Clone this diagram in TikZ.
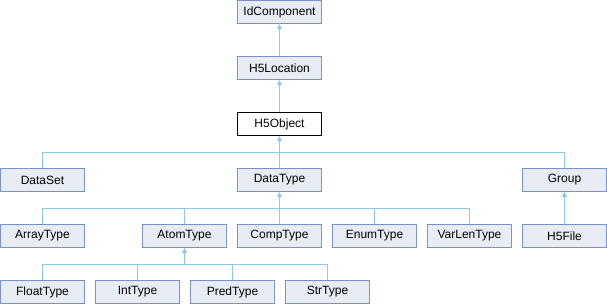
\documentclass[tikz,border=0pt]{standalone}
\usepackage{fontspec}
\setmainfont{Liberation Sans}
\usetikzlibrary{arrows.meta}
\definecolor{boxfill}{RGB}{232,236,245}
\definecolor{boxdraw}{RGB}{122,146,200}
\definecolor{edgecol}{RGB}{140,198,232}
\begin{document}
\begin{tikzpicture}[x=1pt, y=-1pt, font=\fontsize{12}{14}\selectfont]
\tikzstyle{cls}=[draw=boxdraw, fill=boxfill, line width=1pt, minimum width=84pt, minimum height=23pt, inner sep=0pt]
\tikzstyle{cur}=[cls, draw=black, fill=white]
\tikzstyle{edge}=[draw=edgecol, line width=1pt]
\tikzstyle{inh}=[edge, -{Triangle[width=5pt,length=5pt]}]
\useasboundingbox (0,0) rectangle (607,304);
% top of the hierarchy
\node[cls] (idcomp) at (279.5,12) {IdComponent};
\node[cls] (h5loc) at (279.5,68) {H5Location};
\node[cur] (h5obj) at (279.5,124) {H5Object};
% direct subclasses of H5Object
\node[cls] (dataset) at (42.5,180) {DataSet};
\node[cls] (datatype) at (279.5,180) {DataType};
\node[cls] (group) at (564.5,180) {Group};
% datatypes
\node[cls] (arraytype) at (42.5,236) {ArrayType};
\node[cls] (atomtype) at (184.5,236) {AtomType};
\node[cls] (comptype) at (279.5,236) {CompType};
\node[cls] (enumtype) at (374.5,236) {EnumType};
\node[cls] (varlentype) at (469.5,236) {VarLenType};
\node[cls] (h5file) at (564.5,236) {H5File};
% atom types
\node[cls] (floattype) at (42.5,292) {FloatType};
\node[cls] (inttype) at (137.5,292) {IntType};
\node[cls] (predtype) at (232.5,292) {PredType};
\node[cls] (strtype) at (327.5,292) {StrType};
\coordinate (bus1) at (279.5,152.5);
\coordinate (bus2) at (279.5,208.5);
\coordinate (bus3) at (184.5,264.5);
\draw[inh] (h5loc.north) -- (idcomp.south);
\draw[inh] (h5obj.north) -- (h5loc.south);
\draw[inh] (bus1) -- (h5obj.south);
\draw[edge] (dataset.north) |- (bus1) -| (group.north);
\draw[edge] (datatype.north) -- (bus1);
\draw[inh] (bus2) -- (datatype.south);
\draw[edge] (arraytype.north) |- (bus2) -| (varlentype.north);
\foreach \c in {atomtype,comptype,enumtype} \draw[edge] (\c.north) -- (\c.north |- bus2);
\draw[inh] (h5file.north) -- (group.south);
\draw[inh] (bus3) -- (atomtype.south);
\draw[edge] (floattype.north) |- (bus3) -| (strtype.north);
\foreach \c in {inttype,predtype} \draw[edge] (\c.north) -- (\c.north |- bus3);
\end{tikzpicture}
\end{document}
